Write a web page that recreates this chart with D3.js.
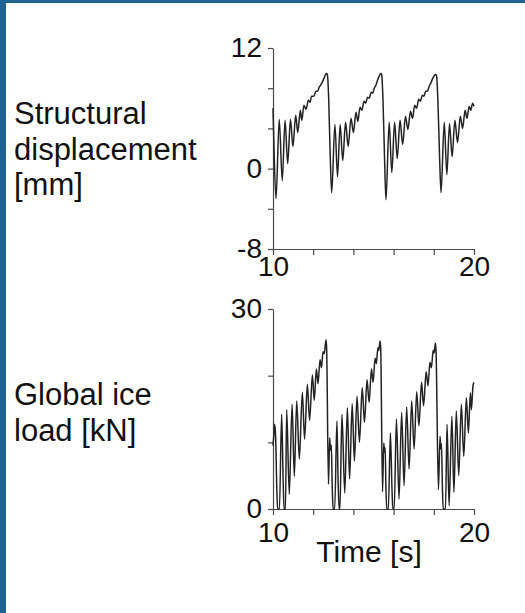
<!DOCTYPE html>
<html lang="en">
<head>
<meta charset="UTF-8">
<title>Structural displacement and global ice load</title>
<script src="https://d3js.org/d3.v7.min.js"></script>
<style>
    body { margin: 0; background: #fff; }
    svg { display: block; }
</style>
</head>
<body>
<div id="plot"></div>
<script>
    const width = 525;
    const height = 613;

    // axis ticks and the ones that carry a label
    const timeTicks = [10, 12, 14, 16, 18, 20];
    const timeLabels = [10, 20];
    const dispTicks = [-8, -4, 0, 4, 8, 12];
    const dispLabels = [-8, 0, 12];
    const loadTicks = [0, 10, 20, 30];
    const loadLabels = [0, 30];

    // [time s, displacement mm]
    const dispData = [
        [10.00, 6.0], [10.05, 2.0], [10.15, -3.0], [10.31, 4.9], [10.46, -1.2], [10.60, 4.8],
        [10.73, 0.5], [10.87, 4.9], [10.99, 2.2], [11.13, 5.3], [11.23, 3.6], [11.36, 5.8],
        [11.43, 4.8], [11.54, 6.3], [11.64, 5.9], [11.76, 6.8], [11.84, 6.6], [11.92, 7.2],
        [12.03, 7.2], [12.14, 7.7], [12.22, 7.7], [12.30, 8.1], [12.37, 8.3], [12.45, 8.6],
        [12.52, 8.9], [12.60, 9.3], [12.67, 9.5], [12.71, 9.3], [12.77, 7.0], [12.85, 1.0],
        [12.92, -2.4], [13.08, 4.4], [13.21, -0.8], [13.34, 4.4], [13.47, 0.8], [13.61, 4.6],
        [13.74, 2.2], [13.88, 5.0], [14.00, 3.6], [14.13, 5.6], [14.22, 4.7], [14.33, 6.1],
        [14.42, 5.8], [14.53, 6.7], [14.61, 6.5], [14.70, 7.1], [14.79, 7.0], [14.88, 7.6],
        [14.96, 7.5], [15.04, 8.0], [15.12, 8.3], [15.20, 8.8], [15.28, 9.2], [15.37, 9.5],
        [15.41, 9.3], [15.47, 7.0], [15.55, 1.0], [15.62, -3.1], [15.78, 4.6], [15.91, -0.4],
        [16.05, 4.6], [16.18, 1.0], [16.32, 4.8], [16.45, 2.4], [16.59, 5.2], [16.71, 3.9],
        [16.84, 5.7], [16.94, 5.0], [17.05, 6.3], [17.14, 6.0], [17.25, 6.9], [17.33, 6.7],
        [17.43, 7.3], [17.51, 7.2], [17.60, 7.7], [17.68, 7.7], [17.77, 8.2], [17.85, 8.5],
        [17.93, 8.9], [18.01, 9.2], [18.10, 9.4], [18.14, 9.2], [18.20, 7.0], [18.29, 1.0],
        [18.36, -2.4], [18.52, 4.6], [18.65, -0.6], [18.78, 4.5], [18.91, 1.2], [19.05, 4.8],
        [19.18, 2.6], [19.32, 5.2], [19.43, 4.0], [19.56, 5.8], [19.65, 5.0], [19.76, 6.2],
        [19.84, 5.8], [19.93, 6.5], [20.00, 6.2]
    ];

    // [time s, global ice load kN]
    const loadData = [
        [10.00, 9.5], [10.04, 11.0], [10.08, 12.7], [10.13, 11.0], [10.19, 3.0], [10.23, 0],
        [10.32, 0], [10.43, 14.2], [10.50, 5.0], [10.55, 0], [10.62, 0], [10.68, 14.9],
        [10.81, 2.2], [10.95, 15.7], [11.06, 4.9], [11.18, 16.2], [11.31, 7.5], [11.46, 17.5],
        [11.57, 10.5], [11.71, 18.7], [11.82, 13.3], [11.96, 20.1], [12.05, 16.3], [12.16, 21.0],
        [12.24, 18.8], [12.34, 22.4], [12.41, 21.2], [12.49, 23.6], [12.55, 23.3], [12.64, 25.4],
        [12.67, 24.0], [12.76, 3.7], [12.82, 10.7], [12.86, 8.8], [12.90, 9.6], [12.95, 3.0],
        [12.99, 0], [13.07, 0], [13.18, 13.2], [13.24, 4.0], [13.29, 0], [13.33, 0],
        [13.43, 14.2], [13.57, 2.4], [13.70, 15.2], [13.81, 4.5], [13.94, 15.8], [14.05, 7.2],
        [14.18, 16.9], [14.30, 10.0], [14.44, 18.2], [14.55, 13.0], [14.68, 19.4], [14.78, 16.0],
        [14.90, 21.0], [14.98, 19.0], [15.08, 22.6], [15.14, 21.8], [15.22, 24.2], [15.26, 23.8],
        [15.33, 25.2], [15.36, 24.0], [15.45, 2.6], [15.51, 9.9], [15.55, 8.5], [15.58, 9.2],
        [15.62, 3.0], [15.66, 0], [15.74, 0], [15.84, 11.4], [15.92, 3.0], [15.96, 0],
        [16.03, 0], [16.14, 13.5], [16.27, 1.5], [16.40, 14.5], [16.52, 3.5], [16.65, 15.3],
        [16.77, 6.0], [16.90, 16.2], [17.02, 9.0], [17.15, 17.6], [17.26, 12.5], [17.39, 19.0],
        [17.49, 15.5], [17.62, 20.6], [17.71, 18.5], [17.81, 22.0], [17.88, 21.2], [17.97, 23.8],
        [18.02, 23.4], [18.08, 24.9], [18.11, 23.8], [18.23, 2.9], [18.31, 10.9], [18.35, 9.0],
        [18.38, 9.8], [18.43, 3.0], [18.47, 0], [18.58, 0], [18.66, 12.7], [18.76, 0.5],
        [18.90, 13.9], [19.00, 2.5], [19.12, 14.7], [19.24, 5.0], [19.37, 15.7], [19.49, 7.9],
        [19.62, 16.7], [19.72, 11.4], [19.82, 17.4], [19.87, 14.9], [19.95, 18.5], [20.00, 19.0]
    ];

    const svg = d3.select("#plot")
        .append("svg")
        .attr("width", width)
        .attr("height", height);

    svg.append("rect").attr("width", width).attr("height", height).attr("fill", "#fff");
    // blue frame on top and left
    svg.append("rect").attr("width", width).attr("height", 3).attr("fill", "#1f6392");
    svg.append("rect").attr("width", 6).attr("height", height).attr("fill", "#1f6392");

    const font = "'Liberation Sans', Arial, sans-serif";

    function drawPanel(data, yDomain, yRange, yTicks, yLabels, xPad) {
        const x = d3.scaleLinear().domain([10, 20]).range([273, 474]);
        const y = d3.scaleLinear().domain(yDomain).range(yRange);

        const gx = svg.append("g")
            .attr("transform", `translate(0,${yRange[0]})`)
            .call(d3.axisBottom(x)
                .tickValues(timeTicks)
                .tickSize(6)
                .tickSizeOuter(0)
                .tickPadding(xPad)
                .tickFormat(d => timeLabels.includes(d) ? String(d) : ""));

        const gy = svg.append("g")
            .attr("transform", "translate(273,0)")
            .call(d3.axisLeft(y)
                .tickValues(yTicks)
                .tickSize(5)
                .tickSizeOuter(0)
                .tickPadding(6)
                .tickFormat(d => yLabels.includes(d) ? String(d) : ""));

        [gx, gy].forEach(g => {
            g.selectAll("path, line").attr("stroke", "#4a4a4a").attr("stroke-width", 1.2);
            g.selectAll("text")
                .attr("fill", "#111")
                .attr("font-family", font)
                .attr("font-size", "28px");
        });

        const line = d3.line()
            .x(d => x(d[0]))
            .y(d => y(d[1]))
            .curve(d3.curveMonotoneX);

        svg.append("path")
            .datum(data)
            .attr("fill", "none")
            .attr("stroke", "#222")
            .attr("stroke-width", 1.5)
            .attr("stroke-linejoin", "round")
            .attr("d", line);
    }

    drawPanel(dispData, [-8, 12], [249, 48], dispTicks, dispLabels, 1);
    drawPanel(loadData, [0, 30], [509, 309], loadTicks, loadLabels, 7);

    // row titles on the left
    function rowTitle(lines, y0) {
        const t = svg.append("text")
            .attr("font-family", font)
            .attr("font-size", "31px")
            .attr("fill", "#111");
        lines.forEach((s, i) => {
            t.append("tspan").attr("x", 14).attr("y", y0 + i * 35.5).text(s);
        });
    }
    rowTitle(["Structural", "displacement", "[mm]"], 124);
    rowTitle(["Global ice", "load [kN]"], 405);

    svg.append("text")
        .attr("x", 369)
        .attr("y", 562)
        .attr("text-anchor", "middle")
        .attr("font-family", font)
        .attr("font-size", "30px")
        .attr("fill", "#111")
        .text("Time [s]");
</script>
</body>
</html>
